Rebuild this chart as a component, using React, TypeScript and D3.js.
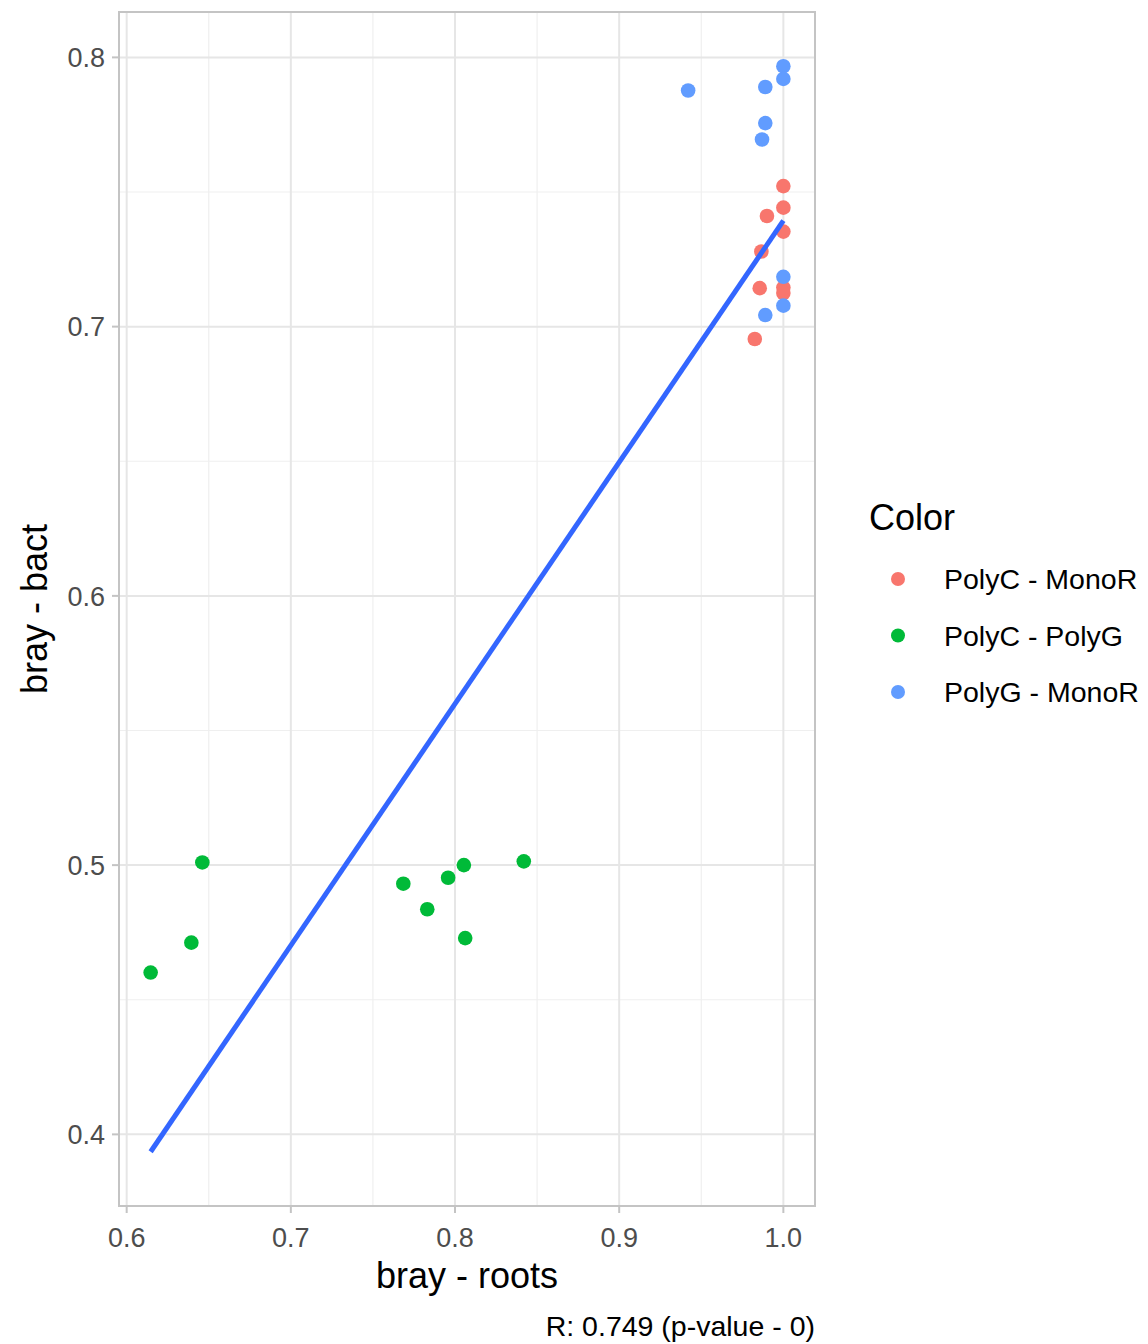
import { useMemo } from "react";
import { scaleLinear, extent, range } from "d3";

// bray - roots (x) / bray - bact (y) per group
const polyCMonoR_x = [1.0, 1.0, 0.990, 1.0, 0.9866, 0.9856, 1.0, 1.0, 0.9826];
const polyCMonoR_y = [0.7522, 0.7442, 0.7411, 0.7353, 0.7279, 0.7143, 0.7145, 0.7125, 0.6954];

const polyCPolyG_x = [0.6461, 0.6394, 0.6146, 0.7685, 0.7831, 0.7958, 0.8054, 0.8062, 0.8419];
const polyCPolyG_y = [0.501, 0.4712, 0.4601, 0.4931, 0.4836, 0.4953, 0.5, 0.4729, 0.5014];

const polyGMonoR_x = [0.942, 1.0, 1.0, 0.989, 0.989, 0.987, 1.0, 1.0, 0.989];
const polyGMonoR_y = [0.7877, 0.7967, 0.792, 0.789, 0.7756, 0.7695, 0.7185, 0.7078, 0.7043];

const groups = ["PolyC - MonoR", "PolyC - PolyG", "PolyG - MonoR"];
const groupColors = ["#F8766D", "#00BA38", "#619CFF"];

const xTicks = [0.6, 0.7, 0.8, 0.9, 1.0];
const yTicks = [0.4, 0.5, 0.6, 0.7, 0.8];
const caption = "R: 0.749 (p-value - 0)";

const W = 1148;
const H = 1344;
const M = { left: 119, right: 815, top: 12, bottom: 1206 };
const FONT = "'Liberation Sans', Arial, Helvetica, sans-serif";

export default function App() {
  const { points, fit, x, y } = useMemo(() => {
    const xs = [polyCMonoR_x, polyCPolyG_x, polyGMonoR_x];
    const ys = [polyCMonoR_y, polyCPolyG_y, polyGMonoR_y];
    const points = xs.flatMap((arr, g) =>
      arr.map((v, i) => ({ x: v, y: ys[g][i], g }))
    );
    // least squares fit (geom_smooth method = "lm")
    const n = points.length;
    const mx = points.reduce((s, p) => s + p.x, 0) / n;
    const my = points.reduce((s, p) => s + p.y, 0) / n;
    let sxy = 0;
    let sxx = 0;
    points.forEach((p) => {
      sxy += (p.x - mx) * (p.y - my);
      sxx += (p.x - mx) * (p.x - mx);
    });
    const b = sxy / sxx;
    const a = my - b * mx;
    const [x0, x1] = extent(points, (p) => p.x) as [number, number];
    const fit = [
      { x: x0, y: a + b * x0 },
      { x: x1, y: a + b * x1 },
    ];
    const xr = x1 - x0;
    const allY = points.map((p) => p.y).concat(fit.map((f) => f.y));
    const y0 = Math.min(...allY);
    const y1 = Math.max(...allY);
    const yr = y1 - y0;
    const x = scaleLinear()
      .domain([x0 - xr * 0.05, x1 + xr * 0.05])
      .range([M.left, M.right]);
    const y = scaleLinear()
      .domain([y0 - yr * 0.05, y1 + yr * 0.05])
      .range([M.bottom, M.top]);
    return { points, fit, x, y };
  }, []);

  const xMinor = range(0, xTicks.length - 1).map((i) => (xTicks[i] + xTicks[i + 1]) / 2);
  const yMinor = range(0, yTicks.length - 1).map((i) => (yTicks[i] + yTicks[i + 1]) / 2);
  const [xd0, xd1] = x.domain();
  const [yd0, yd1] = y.domain();
  if (xTicks[0] - 0.05 > xd0) xMinor.unshift(xTicks[0] - 0.05);
  if (yTicks[0] - 0.05 > yd0) yMinor.unshift(yTicks[0] - 0.05);
  if (yTicks[yTicks.length - 1] + 0.05 < yd1) yMinor.push(yTicks[yTicks.length - 1] + 0.05);
  if (xTicks[xTicks.length - 1] + 0.05 < xd1) xMinor.push(xTicks[xTicks.length - 1] + 0.05);

  return (
    <div style={{ position: "absolute", left: 0, top: 0 }}>
      <svg width={W} height={H} style={{ display: "block", background: "#fff" }} fontFamily={FONT}>
        {/* grid */}
        {xMinor.map((t) => (
          <line key={"xm" + t} x1={x(t)} x2={x(t)} y1={M.top} y2={M.bottom} stroke="#EFEFEF" strokeWidth={1.2} />
        ))}
        {yMinor.map((t) => (
          <line key={"ym" + t} x1={M.left} x2={M.right} y1={y(t)} y2={y(t)} stroke="#EFEFEF" strokeWidth={1.2} />
        ))}
        {xTicks.map((t) => (
          <line key={"xg" + t} x1={x(t)} x2={x(t)} y1={M.top} y2={M.bottom} stroke="#E6E6E6" strokeWidth={2} />
        ))}
        {yTicks.map((t) => (
          <line key={"yg" + t} x1={M.left} x2={M.right} y1={y(t)} y2={y(t)} stroke="#E6E6E6" strokeWidth={2} />
        ))}

        {/* points */}
        {points.map((p, i) => (
          <circle key={i} cx={x(p.x)} cy={y(p.y)} r={7.3} fill={groupColors[p.g]} />
        ))}

        {/* regression line */}
        <line
          x1={x(fit[0].x)}
          y1={y(fit[0].y)}
          x2={x(fit[1].x)}
          y2={y(fit[1].y)}
          stroke="#3366FF"
          strokeWidth={5}
          strokeLinecap="butt"
        />

        {/* panel border */}
        <rect x={M.left} y={M.top} width={M.right - M.left} height={M.bottom - M.top} fill="none" stroke="#C4C4C4" strokeWidth={2} />

        {/* x axis */}
        {xTicks.map((t) => (
          <g key={"xt" + t}>
            <line x1={x(t)} x2={x(t)} y1={M.bottom} y2={M.bottom + 7} stroke="#C4C4C4" strokeWidth={2} />
            <text x={x(t)} y={M.bottom + 41} textAnchor="middle" fontSize={27} fill="#4D4D4D">
              {t.toFixed(1)}
            </text>
          </g>
        ))}
        {/* y axis */}
        {yTicks.map((t) => (
          <g key={"yt" + t}>
            <line x1={M.left - 7} x2={M.left} y1={y(t)} y2={y(t)} stroke="#C4C4C4" strokeWidth={2} />
            <text x={M.left - 14} y={y(t)} dy="0.36em" textAnchor="end" fontSize={27} fill="#4D4D4D">
              {t.toFixed(1)}
            </text>
          </g>
        ))}

        <text x={(M.left + M.right) / 2} y={1288} textAnchor="middle" fontSize={36} fill="#000">
          bray - roots
        </text>
        <text
          transform={`translate(47, ${(M.top + M.bottom) / 2}) rotate(-90)`}
          textAnchor="middle"
          fontSize={36}
          fill="#000"
        >
          bray - bact
        </text>
        <text x={M.right} y={1336} textAnchor="end" fontSize={28.5} fill="#000">
          {caption}
        </text>

        {/* legend */}
        <text x={869} y={530} fontSize={36} fill="#000">
          Color
        </text>
        {groups.map((g, i) => (
          <g key={g}>
            <circle cx={898} cy={579 + i * 56.5} r={7} fill={groupColors[i]} />
            <text x={944} y={579 + i * 56.5} dy="0.36em" fontSize={28.5} fill="#000">
              {g}
            </text>
          </g>
        ))}
      </svg>
    </div>
  );
}
